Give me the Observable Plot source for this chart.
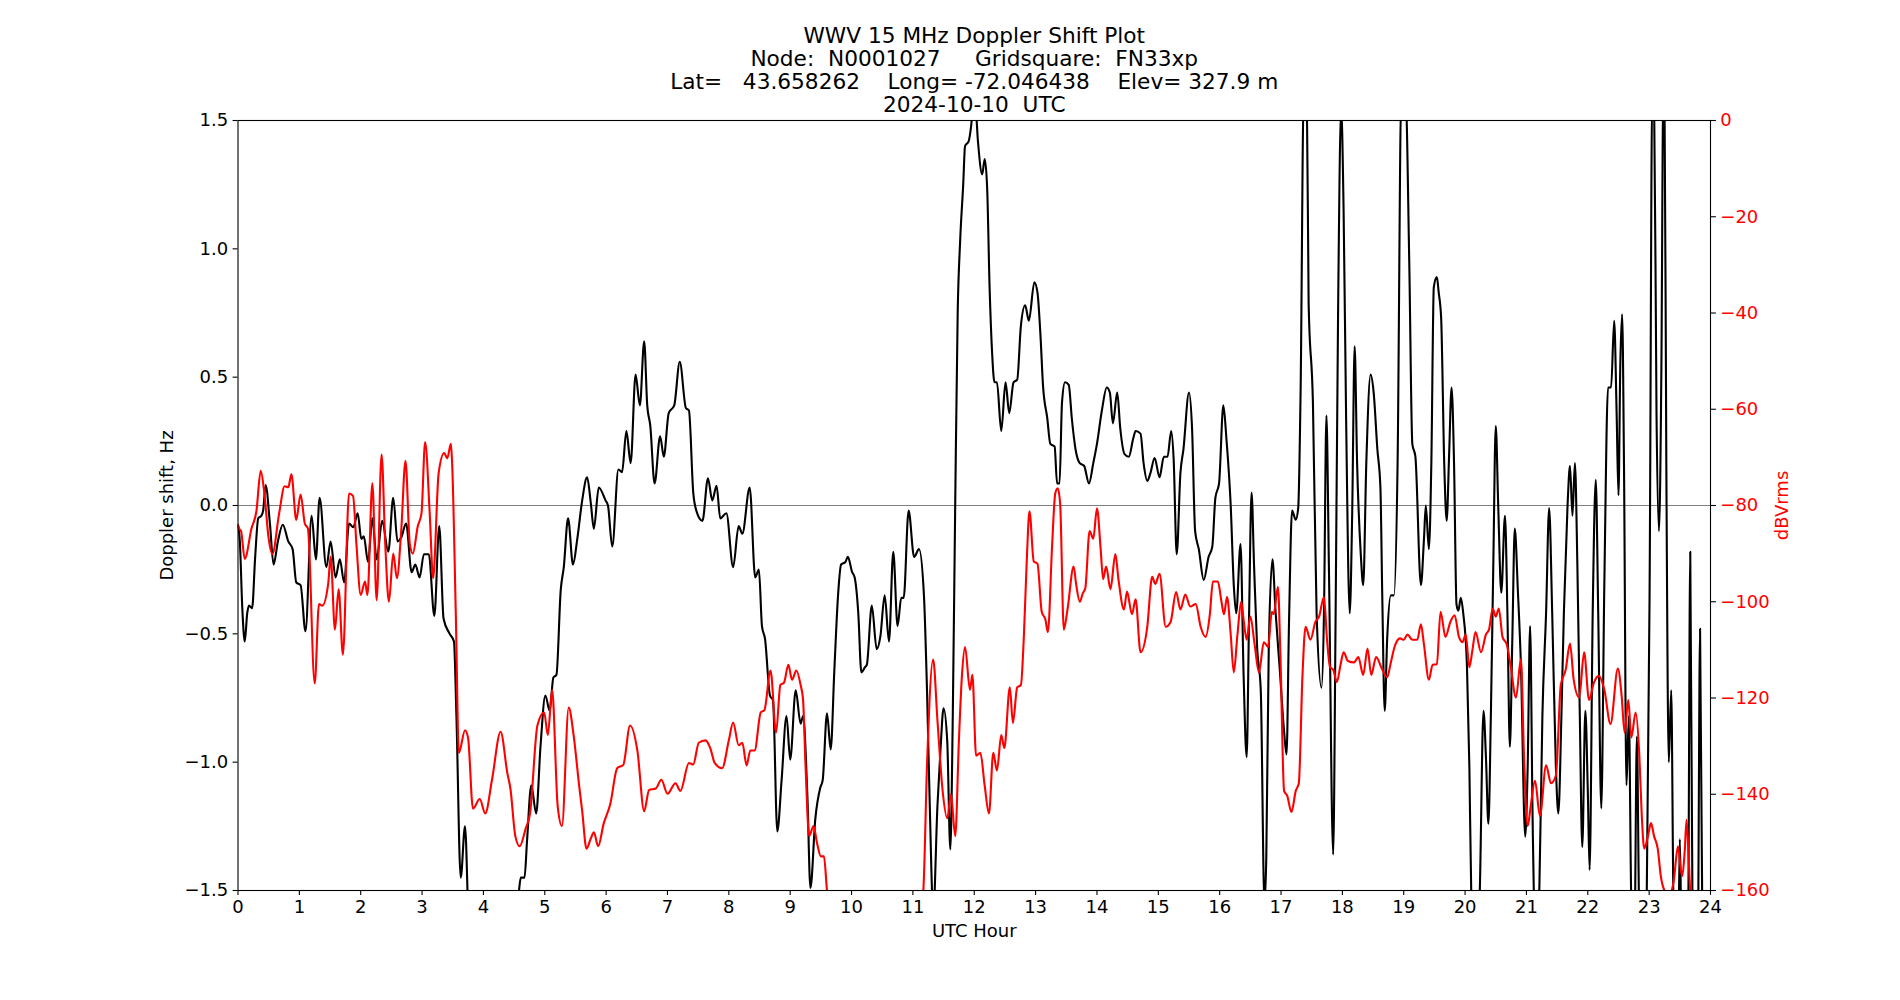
<!DOCTYPE html>
<html>
<head>
<meta charset="utf-8">
<script src="https://cdn.jsdelivr.net/npm/d3@7"></script>
<script src="https://cdn.jsdelivr.net/npm/@observablehq/plot@0.6"></script>
<style>
  html, body { margin: 0; padding: 0; background: #fff; }
  #chart svg text, #chart svg tspan { white-space: pre; }
</style>
</head>
<body>
<div id="chart"></div>
<script>
// Title block
const titleLines = [
  "WWV 15 MHz Doppler Shift Plot",
  "Node:  N0001027     Gridsquare:  FN33xp",
  "Lat=   43.658262    Long= -72.046438    Elev= 327.9 m",
  "2024-10-10  UTC"
];
const xLabel = "UTC Hour";
const yLabel = "Doppler shift, Hz";
const y2Label = "dBVrms";

// Tick values
const hourTicks = d3.range(0, 25);
const hzTicks = [-1.5, -1.0, -0.5, 0.0, 0.5, 1.0, 1.5];
const dbTicks = [0, -20, -40, -60, -80, -100, -120, -140, -160];

// Doppler shift [UTC hour, Hz]
const dopplerShift = [
  [0.00,-0.08],[0.03,-0.14],[0.07,-0.40],[0.11,-0.53],[0.15,-0.42],[0.18,-0.39],[0.23,-0.40],[0.28,-0.20],[0.33,-0.05],[0.38,-0.04],
  [0.41,-0.02],[0.45,0.08],[0.52,-0.07],[0.58,-0.23],[0.65,-0.14],[0.73,-0.075],[0.82,-0.14],[0.89,-0.17],[0.95,-0.30],[1.02,-0.31],
  [1.10,-0.49],[1.20,-0.04],[1.27,-0.21],[1.33,0.03],[1.44,-0.24],[1.51,-0.14],[1.59,-0.28],[1.66,-0.21],[1.73,-0.30],[1.81,-0.07],
  [1.88,-0.085],[1.95,-0.03],[2.01,-0.13],[2.05,-0.12],[2.12,-0.22],[2.19,-0.05],[2.26,-0.21],[2.35,-0.06],[2.45,-0.18],[2.53,0.03],
  [2.60,-0.14],[2.66,-0.125],[2.74,-0.07],[2.83,-0.26],[2.89,-0.23],[2.96,-0.28],[3.03,-0.19],[3.11,-0.19],[3.20,-0.43],[3.28,-0.08],
  [3.35,-0.44],[3.45,-0.50],[3.52,-0.53],[3.56,-0.82],[3.63,-1.45],[3.70,-1.25],[3.76,-1.65],[3.85,-1.90],[4.20,-2.00],[4.50,-1.75],
  [4.58,-1.50],[4.61,-1.45],[4.67,-1.45],[4.71,-1.31],[4.78,-1.09],[4.86,-1.20],[4.93,-0.94],[5.01,-0.74],[5.08,-0.80],[5.14,-0.67],
  [5.19,-0.66],[5.26,-0.33],[5.31,-0.24],[5.38,-0.05],[5.46,-0.23],[5.53,-0.13],[5.61,0.02],[5.69,0.11],[5.75,0.01],[5.80,-0.09],
  [5.88,0.07],[5.99,0.02],[6.03,0.00],[6.10,-0.16],[6.20,0.14],[6.26,0.13],[6.33,0.29],[6.40,0.165],[6.48,0.51],[6.55,0.39],
  [6.62,0.64],[6.67,0.39],[6.72,0.31],[6.79,0.086],[6.88,0.27],[6.94,0.19],[7.02,0.36],[7.11,0.39],[7.20,0.56],[7.30,0.38],
  [7.35,0.37],[7.42,0.05],[7.47,-0.02],[7.57,-0.06],[7.66,0.106],[7.73,0.02],[7.80,0.077],[7.86,-0.05],[7.96,-0.03],[8.07,-0.24],
  [8.16,-0.08],[8.22,-0.11],[8.34,0.07],[8.43,-0.28],[8.49,-0.25],[8.54,-0.47],[8.59,-0.52],[8.67,-0.74],[8.72,-0.76],[8.79,-1.27],
  [8.86,-1.07],[8.94,-0.82],[9.00,-0.99],[9.09,-0.72],[9.17,-0.85],[9.21,-0.82],[9.28,-1.13],[9.33,-1.49],[9.41,-1.22],[9.49,-1.10],
  [9.53,-1.07],[9.60,-0.81],[9.66,-0.95],[9.72,-0.64],[9.78,-0.35],[9.83,-0.23],[9.90,-0.22],[9.94,-0.20],[10.01,-0.26],[10.05,-0.28],
  [10.11,-0.42],[10.16,-0.65],[10.22,-0.63],[10.25,-0.62],[10.33,-0.39],[10.41,-0.56],[10.47,-0.51],[10.54,-0.35],[10.61,-0.53],[10.68,-0.18],
  [10.75,-0.47],[10.81,-0.36],[10.85,-0.36],[10.93,-0.02],[11.02,-0.20],[11.10,-0.17],[11.18,-0.35],[11.23,-0.72],[11.30,-1.41],[11.33,-1.60],
  [11.40,-1.17],[11.45,-0.95],[11.50,-0.79],[11.56,-0.92],[11.61,-1.34],[11.65,-0.82],[11.69,0.01],[11.73,0.75],[11.77,1.03],[11.82,1.25],
  [11.85,1.40],[11.91,1.42],[11.95,1.48],[11.98,1.55],[12.02,1.55],[12.06,1.42],[12.13,1.29],[12.17,1.35],[12.21,1.24],[12.25,0.85],
  [12.29,0.60],[12.33,0.48],[12.37,0.48],[12.44,0.29],[12.51,0.48],[12.57,0.36],[12.64,0.48],[12.70,0.49],[12.76,0.70],[12.83,0.78],
  [12.89,0.72],[12.98,0.87],[13.03,0.83],[13.08,0.66],[13.12,0.47],[13.19,0.34],[13.24,0.24],[13.31,0.23],[13.35,0.086],[13.39,0.086],
  [13.43,0.40],[13.48,0.48],[13.54,0.47],[13.59,0.34],[13.65,0.22],[13.72,0.165],[13.79,0.155],[13.87,0.086],[13.94,0.165],[14.00,0.24],
  [14.08,0.37],[14.16,0.46],[14.21,0.44],[14.26,0.32],[14.33,0.44],[14.38,0.30],[14.45,0.20],[14.52,0.19],[14.59,0.26],[14.63,0.29],
  [14.71,0.28],[14.76,0.165],[14.82,0.096],[14.87,0.125],[14.94,0.185],[15.02,0.11],[15.09,0.19],[15.15,0.19],[15.21,0.29],[15.25,0.18],
  [15.30,-0.19],[15.36,0.125],[15.41,0.22],[15.50,0.44],[15.55,0.30],[15.60,-0.10],[15.66,-0.17],[15.74,-0.29],[15.82,-0.20],[15.88,-0.16],
  [15.93,0.03],[15.99,0.086],[16.06,0.39],[16.11,0.26],[16.18,0.00],[16.23,-0.31],[16.27,-0.42],[16.34,-0.15],[16.39,-0.66],[16.44,-0.98],
  [16.48,-0.42],[16.52,0.05],[16.56,-0.23],[16.61,-0.55],[16.67,-0.72],[16.73,-1.55],[16.76,-1.37],[16.80,-0.56],[16.86,-0.21],[16.91,-0.41],
  [16.98,-0.64],[17.05,-0.88],[17.09,-0.97],[17.13,-0.46],[17.18,-0.02],[17.24,-0.055],[17.28,-0.01],[17.32,0.46],[17.37,1.60],[17.42,1.60],
  [17.45,0.79],[17.52,0.40],[17.58,-0.42],[17.66,-0.71],[17.70,-0.42],[17.74,0.35],[17.78,-0.23],[17.85,-1.36],[17.89,-0.42],[17.93,0.75],
  [17.98,1.55],[18.02,1.15],[18.06,0.36],[18.12,-0.42],[18.16,-0.03],[18.20,0.62],[18.24,0.165],[18.30,-0.19],[18.34,-0.31],[18.39,0.165],
  [18.46,0.51],[18.51,0.44],[18.57,0.22],[18.62,0.07],[18.65,-0.35],[18.69,-0.80],[18.73,-0.52],[18.79,-0.35],[18.84,-0.35],[18.90,0.165],
  [18.96,1.60],[19.03,1.60],[19.09,0.95],[19.14,0.24],[19.19,0.19],[19.28,-0.31],[19.33,-0.13],[19.36,0.00],[19.41,-0.17],[19.45,0.165],
  [19.49,0.85],[19.54,0.89],[19.57,0.83],[19.61,0.73],[19.66,0.165],[19.70,-0.06],[19.74,0.20],[19.78,0.46],[19.82,0.165],[19.86,-0.385],
  [19.89,-0.41],[19.93,-0.36],[19.97,-0.42],[20.03,-0.62],[20.07,-1.02],[20.10,-1.50],[20.17,-1.80],[20.24,-1.50],[20.30,-0.80],[20.34,-0.98],
  [20.38,-1.24],[20.42,-0.82],[20.46,-0.23],[20.50,0.31],[20.54,0.00],[20.59,-0.34],[20.65,-0.04],[20.69,-0.42],[20.73,-0.94],[20.77,-0.52],
  [20.81,-0.09],[20.86,-0.33],[20.91,-0.62],[20.98,-1.29],[21.02,-1.02],[21.06,-0.47],[21.10,-1.21],[21.12,-1.50],[21.17,-1.70],[21.21,-1.50],
  [21.26,-0.82],[21.32,-0.42],[21.37,-0.01],[21.42,-0.42],[21.48,-1.02],[21.52,-1.20],[21.57,-0.82],[21.61,-0.42],[21.67,0.00],[21.71,0.155],
  [21.75,-0.04],[21.79,0.165],[21.83,-0.23],[21.87,-0.82],[21.91,-1.33],[21.96,-0.80],[22.00,-1.11],[22.03,-1.42],[22.08,-0.42],[22.13,0.10],
  [22.17,-0.42],[22.22,-1.18],[22.27,-0.30],[22.33,0.46],[22.38,0.46],[22.43,0.72],[22.47,0.36],[22.50,0.04],[22.53,0.55],[22.56,0.745],
  [22.59,0.16],[22.63,-1.09],[22.67,-0.82],[22.71,-1.55],[22.76,-1.70],[22.80,-0.90],[22.84,-1.60],[22.95,-1.80],[23.01,-0.23],[23.05,1.60],
  [23.08,1.60],[23.12,0.36],[23.16,-0.10],[23.20,0.55],[23.23,1.60],[23.25,1.60],[23.28,0.16],[23.32,-1.00],[23.36,-0.72],[23.40,-1.60],
  [23.47,-1.80],[23.50,-1.30],[23.53,-1.70],[23.63,-1.80],[23.67,-0.18],[23.71,-1.70],[23.79,-1.80],[23.83,-0.48],[23.87,-1.70],[23.95,-1.80]
];

// Received signal level [UTC hour, dBVrms]
const signalLevel = [
  [0.00,-84.0],[0.02,-84.8],[0.05,-85.3],[0.11,-91.1],[0.22,-84.8],[0.30,-81.2],[0.37,-72.8],[0.43,-77.5],[0.50,-86.9],[0.56,-90.1],
  [0.67,-81.7],[0.76,-76.0],[0.82,-76.2],[0.87,-73.5],[0.95,-83.0],[1.02,-77.7],[1.09,-83.8],[1.14,-84.8],[1.25,-117.0],[1.32,-100.5],
  [1.375,-100.8],[1.47,-96.3],[1.51,-90.6],[1.58,-105.8],[1.64,-97.4],[1.71,-111.0],[1.81,-77.5],[1.875,-78.0],[1.93,-88.0],[2.00,-98.6],
  [2.07,-95.8],[2.11,-98.6],[2.19,-75.4],[2.26,-99.7],[2.34,-69.4],[2.40,-88.0],[2.46,-100.0],[2.53,-90.0],[2.59,-95.1],[2.66,-85.3],
  [2.73,-70.7],[2.80,-88.0],[2.85,-90.0],[2.93,-84.3],[2.99,-81.7],[3.05,-66.8],[3.125,-81.7],[3.18,-95.1],[3.27,-73.3],[3.36,-69.1],
  [3.41,-70.2],[3.47,-67.2],[3.49,-71.2],[3.55,-102.6],[3.60,-131.4],[3.70,-126.7],[3.75,-128.3],[3.83,-143.0],[3.94,-141.0],[4.03,-144.0],
  [4.14,-137.0],[4.28,-127.0],[4.39,-135.6],[4.44,-138.8],[4.52,-148.7],[4.59,-150.8],[4.69,-147.1],[4.76,-144.0],[4.88,-125.7],[4.99,-123.0],
  [5.05,-127.7],[5.12,-118.3],[5.21,-142.4],[5.28,-146.6],[5.39,-122.0],[5.47,-127.7],[5.56,-138.2],[5.61,-143.5],[5.68,-151.3],[5.75,-149.2],
  [5.80,-147.9],[5.87,-150.8],[5.96,-146.1],[6.07,-141.9],[6.18,-134.6],[6.28,-133.9],[6.39,-125.7],[6.51,-131.0],[6.62,-143.5],[6.70,-139.1],
  [6.81,-138.8],[6.90,-137.0],[7.00,-139.9],[7.13,-137.7],[7.21,-139.3],[7.35,-133.5],[7.42,-133.8],[7.51,-129.3],[7.62,-128.8],[7.70,-130.5],
  [7.77,-133.5],[7.89,-134.6],[8.00,-128.8],[8.07,-125.1],[8.16,-129.8],[8.22,-129.3],[8.29,-134.0],[8.35,-130.9],[8.42,-130.9],[8.52,-123.0],
  [8.58,-122.5],[8.68,-114.3],[8.77,-127.2],[8.84,-117.3],[8.90,-116.8],[8.97,-113.1],[9.03,-116.2],[9.10,-114.3],[9.17,-117.3],[9.21,-120.4],
  [9.25,-134.0],[9.31,-148.7],[9.38,-146.6],[9.44,-150.3],[9.50,-152.9],[9.55,-152.9],[9.60,-160.0],[9.70,-166.0],[10.50,-170.0],[11.10,-166.0],
  [11.17,-160.0],[11.23,-134.0],[11.33,-112.0],[11.40,-124.6],[11.48,-138.7],[11.56,-145.0],[11.62,-140.0],[11.69,-148.7],[11.75,-128.8],[11.80,-115.2],
  [11.85,-109.4],[11.93,-118.3],[11.97,-115.2],[12.03,-132.0],[12.10,-131.4],[12.17,-138.2],[12.24,-144.0],[12.31,-131.4],[12.37,-135.1],[12.44,-127.7],
  [12.49,-130.4],[12.58,-117.8],[12.63,-125.2],[12.70,-117.8],[12.76,-117.3],[12.81,-106.8],[12.86,-90.1],[12.90,-81.2],[12.97,-91.6],[13.03,-92.1],
  [13.10,-102.1],[13.16,-103.7],[13.20,-106.3],[13.27,-88.0],[13.32,-77.5],[13.36,-76.4],[13.40,-79.6],[13.46,-105.8],[13.52,-101.6],[13.62,-92.7],
  [13.66,-96.3],[13.72,-100.0],[13.77,-98.2],[13.81,-97.2],[13.88,-85.3],[13.94,-86.9],[14.00,-80.6],[14.06,-89.0],[14.10,-95.3],[14.15,-92.7],
  [14.22,-97.4],[14.30,-90.1],[14.35,-95.3],[14.44,-101.6],[14.49,-97.9],[14.57,-102.6],[14.63,-99.5],[14.71,-110.5],[14.82,-105.2],[14.90,-94.8],
  [14.95,-96.3],[15.02,-94.2],[15.12,-105.2],[15.20,-104.2],[15.29,-98.0],[15.36,-101.6],[15.44,-98.5],[15.52,-101.0],[15.61,-100.5],[15.69,-105.2],
  [15.77,-107.3],[15.84,-102.6],[15.89,-95.8],[15.97,-95.8],[16.03,-100.0],[16.07,-102.6],[16.12,-99.0],[16.18,-106.8],[16.23,-114.7],[16.29,-106.8],
  [16.35,-100.0],[16.39,-103.7],[16.44,-107.9],[16.50,-103.1],[16.57,-108.9],[16.64,-114.7],[16.72,-108.4],[16.79,-109.4],[16.85,-102.1],[16.88,-102.6],
  [16.95,-96.9],[16.99,-111.0],[17.05,-139.3],[17.10,-140.3],[17.17,-143.7],[17.24,-139.3],[17.29,-137.7],[17.35,-115.2],[17.40,-105.2],[17.48,-107.9],
  [17.56,-104.2],[17.62,-103.1],[17.70,-99.0],[17.75,-107.9],[17.80,-113.6],[17.85,-114.1],[17.91,-116.7],[17.97,-113.1],[18.02,-110.5],[18.09,-112.3],
  [18.19,-112.6],[18.26,-111.5],[18.34,-115.2],[18.41,-109.7],[18.47,-115.2],[18.55,-111.5],[18.65,-114.1],[18.73,-115.7],[18.79,-112.6],[18.85,-109.4],
  [18.94,-107.6],[19.00,-107.9],[19.06,-106.8],[19.14,-107.9],[19.22,-107.9],[19.28,-104.7],[19.33,-108.9],[19.41,-116.2],[19.47,-113.1],[19.54,-113.0],
  [19.60,-102.1],[19.68,-107.3],[19.76,-104.2],[19.83,-102.8],[19.90,-107.3],[19.96,-108.4],[20.01,-106.8],[20.07,-113.6],[20.12,-110.0],[20.17,-106.3],
  [20.26,-110.5],[20.34,-106.8],[20.39,-105.8],[20.45,-101.4],[20.50,-103.1],[20.55,-101.4],[20.61,-107.3],[20.68,-108.9],[20.74,-113.1],[20.83,-119.9],
  [20.91,-111.9],[20.96,-131.9],[21.02,-146.6],[21.07,-142.4],[21.14,-137.2],[21.22,-144.5],[21.32,-134.0],[21.40,-137.7],[21.48,-136.1],[21.56,-117.3],
  [21.64,-114.1],[21.71,-108.7],[21.77,-116.2],[21.86,-119.9],[21.94,-110.5],[22.02,-120.4],[22.10,-116.8],[22.18,-115.4],[22.27,-118.3],[22.37,-125.4],
  [22.49,-113.9],[22.55,-119.3],[22.60,-127.2],[22.66,-120.4],[22.71,-128.2],[22.78,-123.0],[22.84,-131.9],[22.88,-144.5],[22.92,-151.3],[22.98,-148.7],
  [23.03,-146.0],[23.08,-148.7],[23.14,-151.3],[23.19,-157.0],[23.24,-159.7],[23.32,-161.0],[23.40,-158.1],[23.47,-150.8],[23.51,-155.0],[23.54,-157.0],
  [23.58,-151.8],[23.61,-145.3],[23.65,-155.0],[23.68,-162.0],[23.80,-166.0],[24.00,-168.0]
];

// The signal level shares the plot frame: map dBVrms [-160, 0] onto Hz [-1.5, 1.5]
const dbDomain = [-160, 0];
const hzDomain = [-1.5, 1.5];
const dbToHz = d3.scaleLinear().domain(dbDomain).range(hzDomain);

const doppler = dopplerShift.map(([hour, hz]) => ({hour, hz}));
const level = signalLevel.map(([hour, db]) => ({hour, db}));

const fmtHz = d3.format(".1f");
const fmtDb = d3.format("d");

const chart = Plot.plot({
  width: 1900,
  height: 1000,
  marginLeft: 237.5,
  marginRight: 190,
  marginTop: 120,
  marginBottom: 110,
  style: {fontFamily: "'DejaVu Sans', sans-serif", fontSize: "18px", background: "#fff", color: "#000"},
  x: {domain: [0, 24]},
  y: {domain: hzDomain},
  marks: [
    Plot.ruleY([0], {stroke: "#808080", strokeWidth: 1.1}),
    Plot.line(doppler, {x: "hour", y: "hz", stroke: "#000", strokeWidth: 2.1, curve: "monotone-x", clip: true}),
    Plot.line(level, {x: "hour", y: d => dbToHz(d.db), stroke: "#ff0000", strokeWidth: 2.1, curve: "monotone-x", clip: true}),
    Plot.frame({stroke: "#000", strokeWidth: 1.1}),
    Plot.axisX({ticks: hourTicks, tickFormat: fmtDb, tickSize: 4.9, tickPadding: 4.9, label: null, strokeWidth: 1.1}),
    Plot.axisY({anchor: "left", ticks: hzTicks, tickFormat: fmtHz, tickSize: 4.9, tickPadding: 4.9, label: null, strokeWidth: 1.1}),
    Plot.axisY({
      anchor: "right",
      ticks: dbTicks.map(dbToHz),
      tickFormat: v => fmtDb(Math.round(dbToHz.invert(v))),
      tickSize: 4.9, tickPadding: 4.9, label: null,
      stroke: "#000", fill: "#ff0000", strokeWidth: 1.1
    }),
    Plot.text([titleLines.join("\n")], {
      frameAnchor: "top", textAnchor: "middle", lineAnchor: "bottom",
      dy: -9, fontSize: 21.67, lineHeight: 1.057, fill: "#000"
    }),
    Plot.text([yLabel], {frameAnchor: "left", textAnchor: "middle", lineAnchor: "middle", rotate: -90, dx: -70.5, fill: "#000"}),
    Plot.text([y2Label], {frameAnchor: "right", textAnchor: "middle", lineAnchor: "middle", rotate: -90, dx: 72, fill: "#ff0000"}),
    Plot.text([xLabel], {frameAnchor: "bottom", textAnchor: "middle", lineAnchor: "middle", dy: 41, fill: "#000"})
  ]
});

document.getElementById("chart").append(chart);
</script>
</body>
</html>
